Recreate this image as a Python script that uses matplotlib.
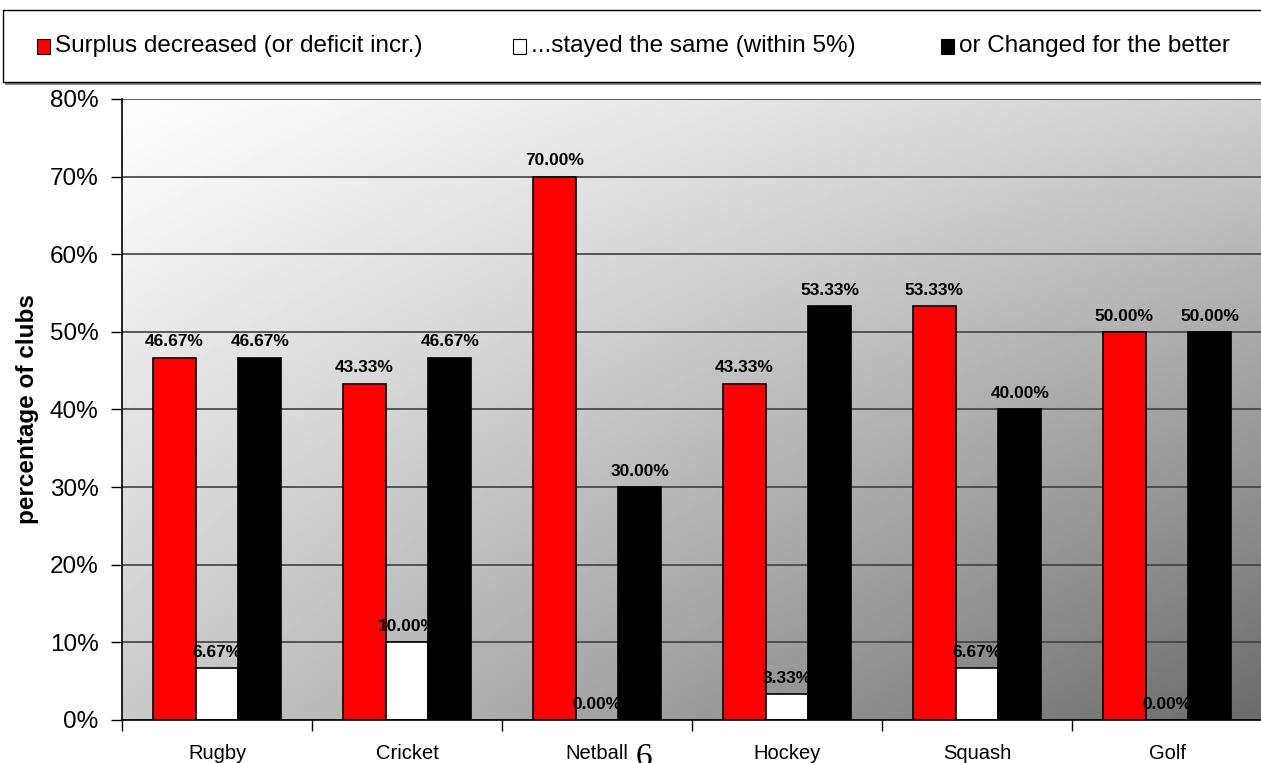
import numpy as np
import matplotlib
matplotlib.use("Agg")
import matplotlib.pyplot as plt
from matplotlib.patches import Rectangle

plt.rcParams["font.family"] = ["Liberation Sans", "DejaVu Sans"]

sports = ["Rugby", "Cricket", "Netball", "Hockey", "Squash", "Golf"]
decreased = [46.67, 43.33, 70.00, 43.33, 53.33, 50.00]
same = [6.67, 10.00, 0.00, 3.33, 6.67, 0.00]
better = [46.67, 46.67, 30.00, 53.33, 40.00, 50.00]

series_names = ["Surplus decreased (or deficit incr.)",
                "...stayed the same (within 5%)",
                "or Changed for the better"]
series_colors = ["#ff0000", "#ffffff", "#000000"]

W, H = 1261, 763
fig = plt.figure(figsize=(W / 100, H / 100), dpi=100)
ax = fig.add_axes([122 / W, 1 - 720 / H, 1140 / W, 621 / H])

# diagonal grey fill behind the bars
nx, ny = 300, 200
gx = np.linspace(0, 1, nx)[None, :]
gy = np.linspace(0, 1, ny)[:, None]
shade = 1 - 0.19 * gx - 0.21 * gy - 0.18 * gx * gy
ax.imshow(shade, cmap="gray", vmin=0, vmax=1, extent=[0, 1, 0, 1],
          transform=ax.transAxes, aspect="auto", origin="upper", zorder=0)

x = np.arange(len(sports))
bw = 0.225
for i, (vals, col) in enumerate(zip([decreased, same, better], series_colors)):
    pos = x + (i - 1) * bw
    bars = ax.bar(pos, vals, bw, color=col, edgecolor="black", linewidth=1.2,
                  zorder=3, label=series_names[i])
    for b, v in zip(bars, vals):
        ax.annotate(f"{v:.2f}%", (b.get_x() + b.get_width() / 2, v),
                    xytext=(0, 6), textcoords="offset points",
                    ha="center", va="bottom", fontsize=12.5,
                    fontweight="bold", zorder=5)

ax.set_xlim(-0.5, 5.5)
ax.set_ylim(0, 80)
ax.set_yticks(range(0, 81, 10))
ax.set_yticklabels([f"{v}%" for v in range(0, 81, 10)], fontsize=17.5)
ax.yaxis.grid(True, color="#404040", linewidth=1.2, zorder=1)
ax.set_axisbelow(False)

ax.set_xticks(np.arange(-0.5, 6.0, 1.0))
ax.set_xticklabels([])
ax.set_xticks(x, minor=True)
ax.set_xticklabels(sports, minor=True, fontsize=14.5)
ax.tick_params(axis="x", which="minor", length=0, pad=17)
ax.tick_params(axis="x", which="major", length=8, width=1, direction="out")
ax.tick_params(axis="y", length=8, width=1, direction="out", pad=9)

for side in ["top", "right"]:
    ax.spines[side].set_visible(False)
ax.spines["left"].set_linewidth(1.2)
ax.spines["bottom"].set_linewidth(1.2)
ax.spines["left"].set_zorder(4)
ax.spines["bottom"].set_zorder(4)

ax.set_ylabel("percentage of clubs", fontsize=17.5, fontweight="bold", labelpad=8)

# boxed key across the top
fig.patches.append(Rectangle((5 / W, 1 - 85 / H), 1260 / W, 73 / H,
                             transform=fig.transFigure, facecolor="#808080",
                             edgecolor="none", zorder=0))
fig.patches.append(Rectangle((3 / W, 1 - 82 / H), 1260 / W, 72 / H,
                             transform=fig.transFigure, facecolor="white",
                             edgecolor="black", linewidth=1, zorder=1))
key_x = [37, 513, 941]
for kx, name, col in zip(key_x, series_names, series_colors):
    fig.patches.append(Rectangle((kx / W, 1 - 54 / H), 13 / W, 15 / H,
                                 transform=fig.transFigure, facecolor=col,
                                 edgecolor="black", linewidth=0.8, zorder=2))
    fig.text((kx + 18) / W, 1 - 46 / H, name, fontsize=17.5,
             ha="left", va="center", zorder=3)

fig.text(636 / W, 1 - 742 / H, "6", family="Liberation Serif", fontsize=24,
         ha="left", va="top")

fig.savefig("out.png", dpi=100)
